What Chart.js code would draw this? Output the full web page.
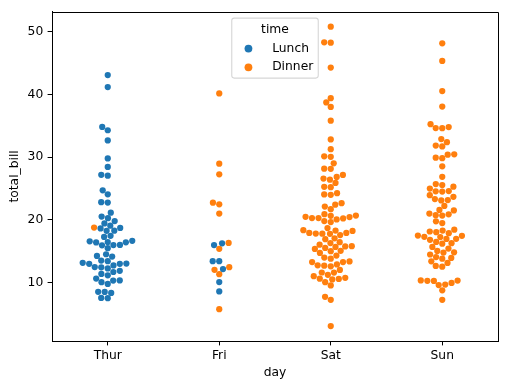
<!DOCTYPE html>
<html>
<head>
<meta charset="utf-8">
<script src="https://cdn.jsdelivr.net/npm/chart.js@4"></script>
<style>
  body { margin: 0; background: #fff; }
  canvas { display: block; }
</style>
</head>
<body>
<canvas id="swarmChart" width="508" height="390"></canvas>
<script>
const days = ['Thur', 'Fri', 'Sat', 'Sun'];
const yTicks = [10, 20, 30, 40, 50];

// total_bill per day, split by time (Lunch / Dinner)
const thurLunch = [27.2, 22.76, 17.29, 19.44, 16.66, 10.07, 32.68, 15.98, 34.83, 13.03, 18.28, 24.71, 21.16,
    10.65, 12.43, 24.08, 11.69, 13.42, 14.26, 15.95, 12.48, 29.8, 8.52, 14.52, 11.38, 22.82, 19.08, 20.27,
    11.17, 12.26, 18.26, 8.51, 10.33, 14.15, 16.0, 13.16, 17.47, 34.3, 41.19, 27.05, 16.43, 8.35, 18.64,
    11.87, 9.78, 7.51, 19.81, 28.44, 15.48, 16.58, 7.56, 10.34, 43.11, 13.0, 13.51, 18.71, 12.74, 13.0,
    16.4, 20.53, 16.47];
const thurDinner = [18.78];
const friLunch = [12.16, 13.42, 8.58, 15.98, 13.42, 16.27, 10.09];
const friDinner = [28.97, 22.49, 5.75, 16.32, 22.75, 40.17, 27.28, 12.03, 21.01, 12.46, 11.35, 15.38];
const satDinner = [20.65, 17.92, 20.29, 15.77, 39.42, 19.82, 17.81, 13.37, 12.69, 21.7, 19.65, 9.55, 18.35,
    15.06, 20.69, 17.78, 24.06, 16.31, 16.93, 18.69, 31.27, 16.04, 38.01, 26.41, 11.24, 48.27, 20.29, 13.81,
    11.02, 18.29, 17.59, 20.08, 16.45, 3.07, 20.23, 15.01, 12.02, 17.07, 26.86, 25.28, 14.73, 10.51, 17.92,
    44.3, 22.42, 20.92, 15.36, 20.49, 25.21, 18.24, 14.31, 14.0, 7.25, 10.59, 10.63, 50.81, 15.81, 26.59,
    38.73, 24.27, 12.76, 30.06, 25.89, 48.33, 13.27, 28.17, 12.9, 28.15, 11.59, 7.74, 30.14, 20.45, 13.28,
    22.12, 24.01, 15.69, 11.61, 10.77, 15.53, 10.07, 12.6, 32.83, 35.83, 29.03, 27.18, 22.67, 17.82];
const sunDinner = [16.99, 10.34, 21.01, 23.68, 24.59, 25.29, 8.77, 26.88, 15.04, 14.78, 10.27, 35.26, 15.42,
    18.43, 14.83, 21.58, 10.33, 16.29, 16.97, 17.46, 13.94, 9.68, 30.4, 18.29, 22.23, 32.4, 28.55, 18.04,
    12.54, 10.29, 34.81, 9.94, 25.56, 19.49, 38.07, 23.95, 25.71, 17.31, 29.93, 14.07, 13.13, 17.26, 24.55,
    19.77, 29.85, 48.17, 25.0, 13.39, 16.49, 21.5, 12.66, 16.21, 13.81, 17.51, 24.52, 20.76, 31.71, 7.25,
    31.85, 16.82, 32.9, 17.89, 14.48, 9.6, 34.63, 34.65, 23.33, 45.35, 23.17, 40.55, 20.69, 20.9, 30.46,
    18.15, 23.1, 15.69];

const lunchByDay = [thurLunch, friLunch, [], []];
const dinnerByDay = [thurDinner, friDinner, satDinner, sunDinner];

const LUNCH_COLOR = '#1f77b4';
const DINNER_COLOR = '#ff7f0e';
const POINT_R = 3.12;
const FAMILY = "'DejaVu Sans', sans-serif";
const FS = 12.3;
const Y_MIN = 0.683;
const Y_MAX = 53.197;

// the swarm is laid out on a 6.4x4.8in figure at 90 dpi, like the original
const SW = { left: 72, width: 446.4, bottom: 47.52, height: 332.64, r: 2.5 * 90 / 72 };

function centred(byDay) {
    const out = [];
    byDay.forEach((vals, d) => vals.forEach(v => out.push({ x: d, y: v, day: d })));
    return out;
}

// same idea as seaborn's Beeswarm; equal offsets keep candidate order
function beeswarm(items) {
    const midline = items[0].x;
    const placed = [items[0]];
    for (let k = 1; k < items.length; k++) {
        const p = items[k];
        const neighbors = [];
        for (let j = placed.length - 1; j >= 0; j--) {
            const q = placed[j];
            if (p.y - q.y < p.r + q.r) neighbors.push(q);
            else break;
        }
        const cands = [p.x];
        let leftFirst = true;
        for (const q of neighbors) {
            const dy = p.y - q.y;
            const dx = Math.sqrt(Math.max((p.r + q.r) ** 2 - dy * dy, 0)) * 1.05;
            if (leftFirst) cands.push(q.x - dx, q.x + dx);
            else cands.push(q.x + dx, q.x - dx);
            leftFirst = !leftFirst;
        }
        const off = cands.map(c => Math.abs(c - midline));
        const order = cands.map((c, i) => i).sort((a, b) => {
            const diff = off[a] - off[b];
            return Math.abs(diff) < 1e-9 ? a - b : diff;
        });
        for (const i of order) {
            const cx = cands[i];
            const ok = neighbors.every(q => (q.x - cx) ** 2 + (q.y - p.y) ** 2 >= (q.r + p.r) ** 2);
            if (ok) { p.x = cx; break; }
        }
        placed.push(p);
    }
}

function applySwarm(chart) {
    const perCat = SW.width / days.length;
    const perUnit = SW.height / (Y_MAX - Y_MIN);
    const sets = chart.data.datasets;
    for (let d = 0; d < days.length; d++) {
        const items = [];
        sets.forEach(ds => ds.data.forEach(pt => {
            if (pt.day !== d) return;
            items.push({
                pt: pt,
                x: SW.left + (d + 0.5) * perCat,
                y: SW.bottom + (pt.y - Y_MIN) * perUnit,
                r: SW.r
            });
        }));
        if (!items.length) continue;
        items.sort((a, b) => a.y - b.y);
        beeswarm(items);
        items.forEach(it => { it.pt.x = (it.x - SW.left) / perCat - 0.5; });
    }
}

const framePlugin = {
    id: 'frame',
    afterDatasetsDraw(chart) {
        const { ctx, chartArea } = chart;
        ctx.save();
        ctx.strokeStyle = '#000';
        ctx.lineWidth = 1;
        ctx.beginPath();
        ctx.moveTo(Math.round(chartArea.left) + 0.5, Math.round(chartArea.top) + 0.5);
        ctx.lineTo(Math.round(chartArea.right) + 0.5, Math.round(chartArea.top) + 0.5);
        ctx.lineTo(Math.round(chartArea.right) + 0.5, Math.round(chartArea.bottom) + 0.5);
        ctx.stroke();
        ctx.restore();
    }
};

const legendPlugin = {
    id: 'timeLegend',
    afterDraw(chart) {
        const { ctx, chartArea } = chart;
        ctx.save();
        ctx.font = FS + 'px ' + FAMILY;
        const textW = Math.max(ctx.measureText('Lunch').width, ctx.measureText('Dinner').width);
        const w = 40.4 + textW + 5;
        const h = 60;
        const cx = (chartArea.left + chartArea.right) / 2;
        const x0 = cx - w / 2;
        const y0 = chartArea.top + 6.3;

        ctx.beginPath();
        ctx.roundRect(x0, y0, w, h, 2.5);
        ctx.fillStyle = 'rgba(255,255,255,0.8)';
        ctx.fill();
        ctx.strokeStyle = 'rgba(204,204,204,0.8)';
        ctx.lineWidth = 1.1;
        ctx.stroke();

        ctx.fillStyle = '#000';
        ctx.textBaseline = 'middle';
        ctx.textAlign = 'center';
        ctx.fillText('time', cx, y0 + 11.7);

        const rows = [['Lunch', LUNCH_COLOR, 30.5], ['Dinner', DINNER_COLOR, 49.2]];
        rows.forEach(([label, color, dy]) => {
            ctx.beginPath();
            ctx.arc(x0 + 16.7, y0 + dy, 3.9, 0, Math.PI * 2);
            ctx.fillStyle = color;
            ctx.fill();
            ctx.fillStyle = '#000';
            ctx.textAlign = 'left';
            ctx.fillText(label, x0 + 40.4, y0 + dy);
        });
        ctx.restore();
    }
};

const tickFont = { family: FAMILY, size: FS };

const chart = new Chart(document.getElementById('swarmChart'), {
    type: 'scatter',
    data: {
        datasets: [
            { label: 'Lunch', data: centred(lunchByDay), backgroundColor: LUNCH_COLOR, borderWidth: 0, pointRadius: POINT_R },
            { label: 'Dinner', data: centred(dinnerByDay), backgroundColor: DINNER_COLOR, borderWidth: 0, pointRadius: POINT_R }
        ]
    },
    options: {
        responsive: false,
        devicePixelRatio: 1,
        animation: false,
        events: [],
        layout: { padding: { left: 0, right: 10, top: 9, bottom: 0 } },
        plugins: {
            legend: { display: false },
            tooltip: { enabled: false }
        },
        scales: {
            x: {
                type: 'linear',
                min: -0.5,
                max: 3.5,
                afterBuildTicks: (s) => { s.ticks = days.map((d, i) => ({ value: i })); },
                afterFit: (s) => { s.height = 49; },
                ticks: { callback: (v) => days[v], color: '#000', font: tickFont, padding: 3.5, autoSkip: false, maxRotation: 0 },
                grid: { drawOnChartArea: false, drawTicks: true, tickLength: 4.4, color: '#000', lineWidth: 1 },
                border: { display: true, color: '#000', width: 1 },
                title: { display: true, text: 'day', color: '#000', font: tickFont, padding: { top: 0, bottom: 9.5 } }
            },
            y: {
                type: 'linear',
                min: Y_MIN,
                max: Y_MAX,
                afterBuildTicks: (s) => { s.ticks = yTicks.map(v => ({ value: v })); },
                afterFit: (s) => { s.width = 52; },
                ticks: { callback: (v) => String(v), color: '#000', font: tickFont, padding: 4.4 },
                grid: { drawOnChartArea: false, drawTicks: true, tickLength: 4.4, color: '#000', lineWidth: 1 },
                border: { display: true, color: '#000', width: 1 },
                title: { display: true, text: 'total_bill', color: '#000', font: tickFont, padding: { top: 7.5, bottom: 0 } }
            }
        }
    },
    plugins: [framePlugin, legendPlugin]
});

applySwarm(chart);
chart.update('none');
</script>
</body>
</html>
